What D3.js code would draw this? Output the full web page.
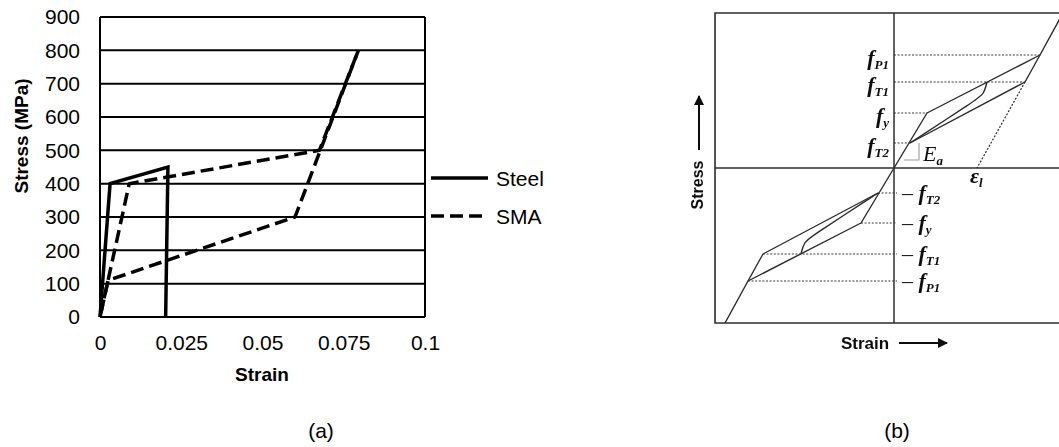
<!DOCTYPE html>
<html>
<head>
<meta charset="utf-8">
<script src="https://cdn.jsdelivr.net/npm/d3@7"></script>
<style>
  html, body { margin: 0; padding: 0; background: #fff; }
  svg { display: block; }
</style>
</head>
<body>
<svg id="fig" width="1059" height="447"></svg>
<script>
// ---------- panel (a): stress-strain of steel and SMA ----------
const strainTicks = [0, 0.025, 0.05, 0.075, 0.1];
const strainTickLabels = ["0", "0.025", "0.05", "0.075", "0.1"];
const stressTicks = [0, 100, 200, 300, 400, 500, 600, 700, 800, 900];
const seriesNames = ["Steel", "SMA"];
// [strain, stress in MPa]
const steelStrain = [0, 0.0031, 0.0209, 0.0202];
const steelStress = [0, 400, 450, 0];
// SMA loading then unloading branch
const smaLoadStrain = [0, 0.009, 0.0675, 0.0795];
const smaLoadStress = [0, 400, 500, 800];
const smaUnloadStrain = [0.0795, 0.06, 0.0025, 0];
const smaUnloadStress = [800, 300, 110, 0];

// ---------- panel (b): idealised SMA hysteresis (arbitrary units) ----------
const levelNames = ["P1", "T1", "y", "T2"];
const levelValues = [113, 86, 55, 25];
const levelStrains = [146, 131, 33, 16];   // strain where each level meets the curve
// loading branch: origin -> yield -> P1 -> steep branch
const loadStrain = [0, 33, 146, 169];
const loadStress = [0, 55, 113, 155];
// unloading branch: T2 -> T1 -> P1
const unloadStrain = [16, 131, 146];
const unloadStress = [25, 86, 113];
// inner transition curve
const innerStrain = [16, 82, 90, 93];
const innerStress = [25, 68, 74, 86];
// residual strain line
const residStrain = [131, 83];
const residStress = [86, 0];

const svg = d3.select("#fig");
const sans = "'Liberation Sans', Arial, sans-serif";
const serif = "'Liberation Serif', 'Times New Roman', serif";

// ===== panel (a) =====
const x = d3.scaleLinear().domain([0, 0.1]).range([100, 425]);
const y = d3.scaleLinear().domain([0, 900]).range([317, 17]);

const gA = svg.append("g");

// horizontal gridlines
gA.append("g").selectAll("line").data(stressTicks).join("line")
  .attr("x1", x(0)).attr("x2", x(0.1))
  .attr("y1", d => y(d)).attr("y2", d => y(d))
  .attr("stroke", "#000").attr("stroke-width", 2);
// plot frame sides
gA.append("line").attr("x1", x(0)).attr("x2", x(0)).attr("y1", y(0)).attr("y2", y(900))
  .attr("stroke", "#000").attr("stroke-width", 2);
gA.append("line").attr("x1", x(0.1)).attr("x2", x(0.1)).attr("y1", y(0)).attr("y2", y(900))
  .attr("stroke", "#000").attr("stroke-width", 2);

// y axis tick labels
const yAxis = d3.axisLeft(y).tickValues(stressTicks).tickSize(0).tickPadding(20);
gA.append("g").attr("transform", `translate(${x(0)},0)`).call(yAxis)
  .call(g => g.select(".domain").remove())
  .call(g => g.selectAll("text").attr("font-family", sans).attr("font-size", 21).attr("fill", "#000"));

// x axis tick labels
const xAxis = d3.axisBottom(x).tickValues(strainTicks)
  .tickFormat((d, i) => strainTickLabels[i]).tickSize(0).tickPadding(18);
gA.append("g").attr("transform", `translate(0,${y(0)})`).call(xAxis)
  .call(g => g.select(".domain").remove())
  .call(g => g.selectAll("text").attr("font-family", sans).attr("font-size", 21).attr("fill", "#000"));

// axis titles
gA.append("text").attr("transform", "translate(28,136) rotate(-90)")
  .attr("text-anchor", "middle").attr("font-family", sans).attr("font-weight", "bold")
  .attr("font-size", 19).text("Stress (MPa)");
gA.append("text").attr("x", 262).attr("y", 381)
  .attr("text-anchor", "middle").attr("font-family", sans).attr("font-weight", "bold")
  .attr("font-size", 19).text("Strain");

const lineA = d3.line().x(d => x(d[0])).y(d => y(d[1]));
const steelPts = steelStrain.map((s, i) => [s, steelStress[i]]);
const smaLoadPts = smaLoadStrain.map((s, i) => [s, smaLoadStress[i]]);
const smaUnloadPts = smaUnloadStrain.map((s, i) => [s, smaUnloadStress[i]]);

const dashOn = 13, dashOff = 6, period = dashOn + dashOff;
const smaLoad = gA.append("path").attr("d", lineA(smaLoadPts)).attr("fill", "none")
  .attr("stroke", "#000").attr("stroke-width", 3.5).attr("stroke-dasharray", `${dashOn},${dashOff}`)
  .attr("stroke-linejoin", "round");
// the unloading branch retraces the elastic segment in reverse; shift its dash
// phase so that its dashes cover the gaps left by the loading branch there
const loadLen = smaLoad.node().getTotalLength();
const gapMid = dashOn + dashOff / 2;
const offset = (((2 * gapMid - period / 2) - loadLen) % period + period) % period;
gA.append("path").attr("d", lineA(smaUnloadPts)).attr("fill", "none")
  .attr("stroke", "#000").attr("stroke-width", 3.5).attr("stroke-dasharray", `${dashOn},${dashOff}`)
  .attr("stroke-dashoffset", offset)
  .attr("stroke-linejoin", "round");
gA.append("path").attr("d", lineA(steelPts)).attr("fill", "none")
  .attr("stroke", "#000").attr("stroke-width", 3.5).attr("stroke-linejoin", "miter");

// legend
const legend = gA.append("g").attr("transform", "translate(431,178)");
seriesNames.forEach((name, i) => {
  const row = legend.append("g").attr("transform", `translate(0,${i * 38})`);
  row.append("line").attr("x1", 0).attr("x2", i === 0 ? 57 : 52).attr("y1", 0).attr("y2", 0)
    .attr("stroke", "#000").attr("stroke-width", 3.5)
    .attr("stroke-dasharray", i === 0 ? null : `${dashOn},${dashOff}`);
  row.append("text").attr("x", 65).attr("y", 7.5).attr("font-family", sans)
    .attr("font-size", 21).text(name);
});

// panel caption
svg.append("text").attr("x", 321).attr("y", 438).attr("text-anchor", "middle")
  .attr("font-family", sans).attr("font-size", 21).text("(a)");

// ===== panel (b) =====
const xb = d3.scaleLinear().domain([-179, 165]).range([715, 1059]);
const yb = d3.scaleLinear().domain([-155, 155]).range([323, 13]);
const ink = "#2b2b2b";

const defs = svg.append("defs");
defs.append("clipPath").attr("id", "clipB").append("rect")
  .attr("x", xb(-179)).attr("y", yb(155)).attr("width", xb(165) - xb(-179)).attr("height", yb(-155) - yb(155));
defs.append("marker").attr("id", "arrowHead").attr("viewBox", "0 0 10 10")
  .attr("refX", 9).attr("refY", 5).attr("markerWidth", 10).attr("markerHeight", 10)
  .attr("markerUnits", "userSpaceOnUse").attr("orient", "auto")
  .append("path").attr("d", "M0,0 L10,5 L0,10 Z").attr("fill", "#111");
defs.append("filter").attr("id", "soft").attr("x", "-5%").attr("y", "-5%")
  .attr("width", "110%").attr("height", "110%")
  .append("feGaussianBlur").attr("stdDeviation", 0.35);

const gB = svg.append("g").attr("filter", "url(#soft)");
// frame: left, top, bottom
gB.append("path")
  .attr("d", `M${xb(165)},${yb(155)} H${xb(-179)} V${yb(-155)} H${xb(165)}`)
  .attr("fill", "none").attr("stroke", ink).attr("stroke-width", 1.6);
// zero axes
gB.append("line").attr("x1", xb(0)).attr("x2", xb(0)).attr("y1", yb(155)).attr("y2", yb(-155))
  .attr("stroke", ink).attr("stroke-width", 1.5);
gB.append("line").attr("x1", xb(-179)).attr("x2", xb(165)).attr("y1", yb(0)).attr("y2", yb(0))
  .attr("stroke", ink).attr("stroke-width", 1.5);

const lineB = d3.line().x(d => xb(d[0])).y(d => yb(d[1]));
const curveB = d3.line().x(d => xb(d[0])).y(d => yb(d[1])).curve(d3.curveBasis);
const pts = (a, b) => a.map((v, i) => [v, b[i]]);
const neg = p => p.map(([u, v]) => [-u, -v]);

const loadPts = pts(loadStrain, loadStress);
const unloadPts = pts(unloadStrain, unloadStress);
const innerPts = pts(innerStrain, innerStress);
const residPts = pts(residStrain, residStress);

const curves = gB.append("g").attr("clip-path", "url(#clipB)")
  .attr("fill", "none").attr("stroke", ink).attr("stroke-width", 1.4).attr("stroke-linejoin", "round");
[loadPts, neg(loadPts), unloadPts, neg(unloadPts)].forEach(p =>
  curves.append("path").attr("d", lineB(p)));
[innerPts, neg(innerPts)].forEach(p =>
  curves.append("path").attr("d", curveB(p)));
curves.append("path").attr("d", lineB(residPts))
  .attr("stroke-dasharray", "2,1.6").attr("stroke-width", 1.2);

// dotted level lines
const dots = gB.append("g").attr("stroke", "#3a3a3a").attr("stroke-width", 1.2)
  .attr("stroke-dasharray", "2,1.6");
levelValues.forEach((v, i) => {
  dots.append("line").attr("x1", xb(0)).attr("x2", xb(levelStrains[i]))
    .attr("y1", yb(v)).attr("y2", yb(v));
  dots.append("line").attr("x1", xb(-levelStrains[i])).attr("x2", xb(3))
    .attr("y1", yb(-v)).attr("y2", yb(-v));
});

// slope triangle for E_a
gB.append("path")
  .attr("d", `M${xb(10)},${yb(8)} H${xb(25)} V${yb(25)}`)
  .attr("fill", "none").attr("stroke", "#9a9a9a").attr("stroke-width", 1.1);

// level labels
function stressLabel(g, name, xPos, yPos, anchor, minus) {
  const t = g.append("text").attr("x", xPos).attr("y", yPos).attr("text-anchor", anchor)
    .attr("font-family", serif).attr("font-size", 22).attr("fill", "#111");
  if (minus) t.append("tspan").text("\u2013 ");
  t.append("tspan").attr("font-style", "italic").attr("font-weight", "bold").text("f");
  t.append("tspan").attr("font-style", "italic").attr("font-weight", "bold")
    .attr("font-size", 13).attr("dy", 4).text(name);
}
levelNames.forEach((n, i) => {
  stressLabel(gB, n, xb(-5), yb(levelValues[i]) + 10, "end", false);
  stressLabel(gB, n, xb(8), yb(-levelValues[i]) + 7, "start", true);
});

// E_a and epsilon_l
const ea = gB.append("text").attr("x", xb(29)).attr("y", yb(8) + 1)
  .attr("font-family", serif).attr("font-size", 22).attr("fill", "#111");
ea.append("tspan").attr("font-style", "italic").text("E");
ea.append("tspan").attr("font-style", "italic").attr("font-weight", "bold")
  .attr("font-size", 13).attr("dy", 4).text("a");
const el = gB.append("text").attr("x", xb(76)).attr("y", yb(0) + 15)
  .attr("font-family", serif).attr("font-size", 22).attr("fill", "#111");
el.append("tspan").attr("font-style", "italic").attr("font-weight", "bold").text("\u03b5");
el.append("tspan").attr("font-style", "italic").attr("font-weight", "bold")
  .attr("font-size", 13).attr("dy", 4).text("l");

// axis titles with arrows
gB.append("text").attr("transform", `translate(703,185) rotate(-90)`)
  .attr("text-anchor", "middle").attr("font-family", sans).attr("font-weight", "bold")
  .attr("font-size", 16).attr("fill", "#111").text("Stress");
gB.append("line").attr("x1", 699).attr("x2", 699).attr("y1", 150).attr("y2", 96)
  .attr("stroke", "#111").attr("stroke-width", 2).attr("marker-end", "url(#arrowHead)");
gB.append("text").attr("x", 865).attr("y", 349)
  .attr("text-anchor", "middle").attr("font-family", sans).attr("font-weight", "bold")
  .attr("font-size", 17).attr("fill", "#111").text("Strain");
gB.append("line").attr("x1", 899).attr("x2", 947).attr("y1", 343).attr("y2", 343)
  .attr("stroke", "#111").attr("stroke-width", 2).attr("marker-end", "url(#arrowHead)");

svg.append("text").attr("x", 897).attr("y", 438).attr("text-anchor", "middle")
  .attr("font-family", sans).attr("font-size", 21).text("(b)");
</script>
</body>
</html>
